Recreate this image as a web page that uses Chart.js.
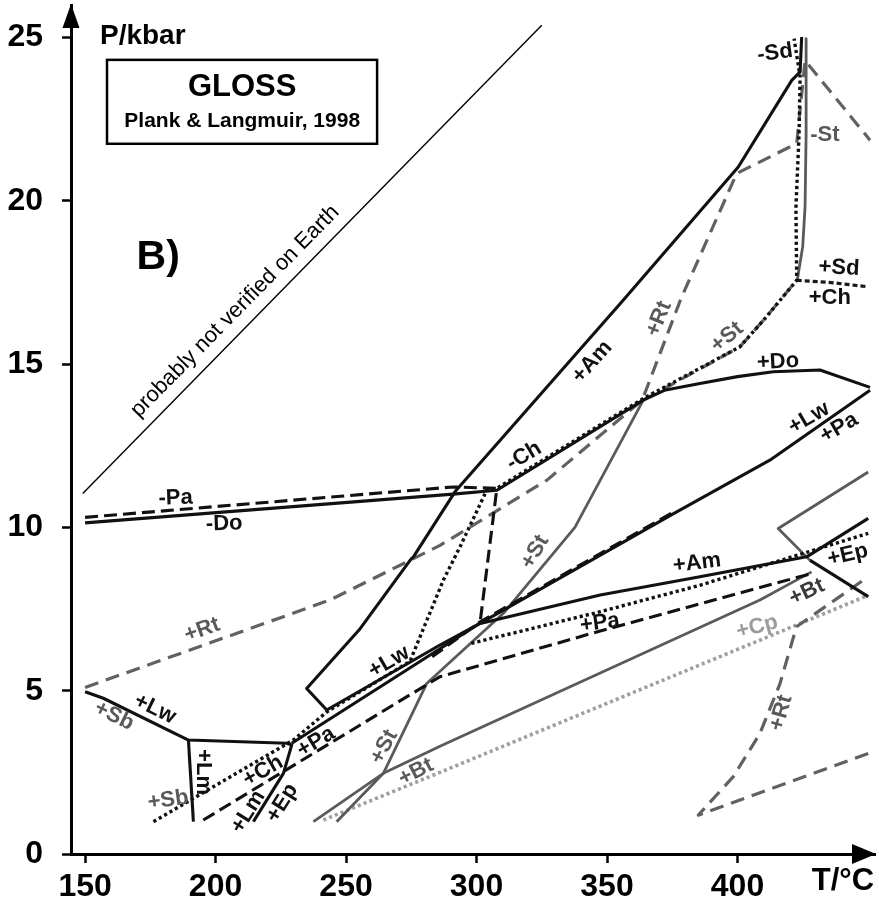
<!DOCTYPE html>
<html lang="en">
<head>
<meta charset="UTF-8">
<title>GLOSS P-T diagram</title>
<script src="https://cdn.jsdelivr.net/npm/chart.js"></script>
<style>
  body {margin:0; background:#fff;}
  #wrap {position:relative; width:879px; height:899px;}
</style>
</head>
<body>
<div id="wrap"><canvas id="ptChart"></canvas></div>
<script>
// axis ticks
const xTicks = [150, 200, 250, 300, 350, 400];
const yTicks = [0, 5, 10, 15, 20, 25];

// reaction curves, [T in °C, P in kbar]
const earthLimit = [[149.1, 11.04], [325, 25.38]];
const doCurve = [[150, 10.14], [291, 11.02], [307.8, 11.14], [363.9, 13.9], [372, 14.2], [385.6, 14.41], [400, 14.62], [413.7, 14.77], [431.6, 14.82], [450.8, 14.29]];
const amCurve = [[301, 7.05], [286, 6.4], [242.6, 4.41], [234.9, 5.07], [255.4, 6.9], [274.6, 9.0], [276, 9.12], [291.8, 11.1], [356.2, 16.96], [400.3, 21.04], [420.8, 23.69], [424, 23.95], [424.6, 25.02]];
const lwLeft = [[150, 4.97], [157, 4.77], [189.6, 3.49], [227.3, 3.39], [229.2, 3.34], [226, 2.47], [214.5, 0.99]];
const lmCurve = [[189.6, 3.49], [191.5, 0.99]];
const lwCurve = [[229.2, 3.39], [301, 7.05], [375, 10.4], [412.4, 12.06], [450.8, 14.2]];
const amLow = [[301, 7.05], [347.4, 7.93], [385.6, 8.49], [426.5, 9.1], [450.1, 10.28]];
const btRight = [[427.7, 9.0], [450.1, 7.88]];
const paUpper = [[150, 10.31], [291, 11.24], [307.8, 11.2], [301.4, 7.11]];
const paAlong = [[283, 6.04], [301.4, 7.11], [375, 10.45]];
const paLow = [[195.3, 1.04], [286, 5.43], [347.4, 6.83], [428.4, 8.59]];
const chDotted = [[176.2, 0.99], [229.8, 3.49], [242.6, 4.35], [274.5, 5.9], [287.3, 8.39], [293.7, 9.41], [303.9, 11.14], [307.8, 11.2], [363.9, 13.95], [400.9, 15.53], [410, 16.35], [422.7, 17.57], [422.4, 19.8], [423.6, 22.06], [424, 23.8], [421.7, 24.97]];
const sdDotted = [[422.7, 17.57], [436, 17.5], [450.1, 17.37]];
const epDotted = [[298, 6.45], [347.4, 7.42], [385.6, 8.23], [450.1, 9.82]];
const rtCurve = [[150, 5.1], [243.9, 7.78], [286, 9.45], [327, 11.45], [363.5, 13.9], [378.3, 17.0], [399.7, 20.84], [422.7, 21.76], [425.9, 24.3], [450.8, 21.86]];
const stDashed = [[363.9, 13.9], [400.9, 15.53], [410, 16.35], [422.7, 17.57]];
const rtRight = [[450.1, 3.08], [385, 1.19], [398.4, 2.37], [408.6, 3.69], [416.3, 5.22], [422.6, 6.96], [450.1, 8.49]];
const stCurve = [[246.4, 0.99], [264.3, 2.47], [280.9, 5.22], [310.3, 7.37], [337.7, 10.0], [363.9, 13.9]];
const btCurve = [[237.5, 0.99], [264.3, 2.47], [286, 3.3], [408.6, 7.78], [428.4, 8.64]];
const boxGray = [[450.1, 11.7], [415.6, 9.97], [427.7, 9.0]];
const sdGray = [[426.3, 24.97], [426.3, 22.06], [425.9, 19.82], [425, 18.6], [422.9, 17.57]];
const cpCurve = [[241.3, 1.04], [286, 2.5], [450.1, 7.92]];

// curve labels: text, T, P, angle, tone
const curveLabels = [
  ['-Pa', 184.7, 10.90, -2, 'k'], ['-Do', 203.3, 10.11, -2, 'k'],
  ['+Rt', 194.8, 6.86, -20, 'g'], ['+Lw', 176.8, 4.44, 26, 'k'],
  ['+Sb', 161.1, 4.23, 26, 'g'], ['+Lm', 195.2, 2.51, 90, 'k'],
  ['+Sb', 181.8, 1.65, -8, 'g'], ['+Ch', 218.2, 2.54, -30, 'k'],
  ['+Lm', 212.5, 1.29, -58, 'k'], ['+Ep', 225.5, 1.56, -58, 'k'],
  ['+Pa', 238.5, 3.43, -31, 'k'], ['+Lw', 266.5, 5.88, -30, 'k'],
  ['+St', 264.6, 3.28, -62, 'g'], ['+Bt', 276.8, 2.51, -27, 'g'],
  ['+Rt', 369.9, 16.39, -68, 'g'], ['+St', 396.0, 15.83, -40, 'g'],
  ['+Am', 344.3, 15.07, -48, 'k'], ['+Do', 415.5, 15.07, -3, 'k'],
  ['-Ch', 318.2, 12.19, -31, 'k'], ['+Lw', 427.4, 13.35, -30, 'k'],
  ['+Pa', 438.9, 13.05, -30, 'k'], ['+St', 322.4, 9.25, -60, 'g'],
  ['+Am', 384.5, 8.91, -7, 'k'], ['+Ep', 442.3, 9.16, -13, 'k'],
  ['+Bt', 426.6, 8.02, -25, 'd'], ['+Cp', 407.5, 6.95, -15, 'l'],
  ['+Pa', 347.3, 7.07, -8, 'k'], ['+Rt', 416.7, 4.32, -74, 'g'],
  ['-Sd', 414.4, 24.53, -8, 'k'], ['-St', 433.5, 22.02, 0, 'g'],
  ['+Sd', 438.9, 17.95, 3, 'k'], ['+Ch', 435.4, 17.03, 0, 'k']
];

const FONT = "'Liberation Sans', Arial, sans-serif";
const TONE = {k: '#111', g: '#595959', d: '#3a3a3a', l: '#9c9c9c'};
const STYLE = {
  solid: {c: '#111', w: 3.1, d: []},
  dash: {c: '#111', w: 3.1, d: [13, 6]},
  dot: {c: '#111', w: 3.4, d: [3.2, 3]},
  dot2: {c: '#1a1a1a', w: 3.2, d: [5, 3]},
  gDash: {c: '#616161', w: 3.2, d: [14, 8]},
  gSolid: {c: '#5a5a5a', w: 2.8, d: []},
  lDot: {c: '#a0a0a0', w: 3.6, d: [3.2, 3]},
  thin: {c: '#000', w: 1.4, d: []}
};

// first entries are drawn on top
const series = [
  [chDotted, 'dot'], [sdDotted, 'dot2'], [epDotted, 'dot'],
  [paUpper, 'dash'], [paAlong, 'dash'], [paLow, 'dash'],
  [doCurve, 'solid'], [amCurve, 'solid'], [lwLeft, 'solid'], [lmCurve, 'solid'],
  [lwCurve, 'solid'], [amLow, 'solid'], [btRight, 'solid'], [earthLimit, 'thin'],
  [stDashed, 'gDash'], [rtCurve, 'gDash'], [rtRight, 'gDash'],
  [stCurve, 'gSolid'], [btCurve, 'gSolid'], [boxGray, 'gSolid'], [sdGray, 'gSolid'],
  [cpCurve, 'lDot']
];

const decorations = {
  id: 'decorations',
  afterDatasetsDraw(chart) {
    const {ctx, chartArea: a, scales: {x, y}} = chart;
    const px = t => x.getPixelForValue(t), py = p => y.getPixelForValue(p);
    ctx.save();
    // axis arrows
    ctx.fillStyle = '#000';
    ctx.beginPath();
    ctx.moveTo(a.left, a.top - 1); ctx.lineTo(a.left - 8.5, a.top + 23); ctx.lineTo(a.left + 8.5, a.top + 23);
    ctx.closePath(); ctx.fill();
    ctx.beginPath();
    ctx.moveTo(a.right + 1, a.bottom); ctx.lineTo(a.right - 23, a.bottom - 10); ctx.lineTo(a.right - 23, a.bottom + 10);
    ctx.closePath(); ctx.fill();

    // curve labels
    ctx.textAlign = 'center'; ctx.textBaseline = 'middle';
    ctx.font = `bold 22px ${FONT}`;
    curveLabels.forEach(([txt, t, p, rot, tone]) => {
      ctx.save();
      ctx.translate(px(t), py(p)); ctx.rotate(rot * Math.PI / 180);
      ctx.fillStyle = TONE[tone];
      ctx.fillText(txt, 0, 0);
      ctx.restore();
    });

    // note along the limit line
    ctx.save();
    ctx.translate(px(207.5), py(16.62)); ctx.rotate(-45.5 * Math.PI / 180);
    ctx.fillStyle = '#000'; ctx.font = `22px ${FONT}`;
    ctx.fillText('probably not verified on Earth', 0, 0);
    ctx.restore();

    // title box
    ctx.strokeStyle = '#000'; ctx.lineWidth = 2.5;
    ctx.strokeRect(px(158.4), py(24.32), px(261.9) - px(158.4), py(21.75) - py(24.32));
    ctx.fillStyle = '#000';
    ctx.font = `bold 31px ${FONT}`;
    ctx.fillText('GLOSS', px(210.2), py(23.46));
    ctx.font = `bold 21px ${FONT}`;
    ctx.fillText('Plank & Langmuir, 1998', px(210.2), py(22.45));
    ctx.font = `bold 41px ${FONT}`;
    ctx.fillText('B)', px(178.0), py(18.25));

    // axis titles
    ctx.font = `bold 28px ${FONT}`;
    ctx.textAlign = 'left';
    ctx.fillText('P/kbar', px(155.7), py(25.05));
    ctx.font = `bold 31px ${FONT}`;
    ctx.textAlign = 'center';
    ctx.fillText('T/°C', px(440.4), py(-0.83));
    ctx.restore();
  }
};

const tickFont = {family: FONT, size: 32, weight: 'bold'};

new Chart(document.getElementById('ptChart'), {
  type: 'scatter',
  data: {
    datasets: series.map(([pts, st]) => ({
      data: pts.map(([t, p]) => ({x: t, y: p})),
      showLine: true,
      borderColor: STYLE[st].c,
      borderWidth: STYLE[st].w,
      borderDash: STYLE[st].d,
      borderCapStyle: 'butt',
      borderJoinStyle: 'round',
      pointRadius: 0,
      fill: false,
      tension: 0
    }))
  },
  options: {
    responsive: true,
    maintainAspectRatio: false,
    animation: false,
    events: [],
    layout: {padding: {left: 0, top: 5, right: 4, bottom: 0}},
    plugins: {legend: {display: false}, tooltip: {enabled: false}},
    scales: {
      x: {
        type: 'linear', min: 144.6, max: 452.7,
        afterFit: s => { s.height = 45; s.paddingLeft = 0; s.paddingRight = 0; },
        afterBuildTicks: s => { s.ticks = xTicks.map(v => ({value: v})); },
        grid: {display: true, drawOnChartArea: false, drawTicks: true, tickLength: 9, tickWidth: 2.5, tickColor: '#000'},
        border: {display: true, width: 3, color: '#000'},
        ticks: {color: '#000', font: tickFont, padding: 5, maxRotation: 0, autoSkip: false}
      },
      y: {
        type: 'linear', min: 0, max: 26,
        afterFit: s => { s.width = 71; s.paddingTop = 0; s.paddingBottom = 0; },
        afterBuildTicks: s => { s.ticks = yTicks.map(v => ({value: v})); },
        grid: {display: true, drawOnChartArea: false, drawTicks: true, tickLength: 9, tickWidth: 2.5, tickColor: '#000'},
        border: {display: true, width: 3, color: '#000'},
        ticks: {color: '#000', font: tickFont, padding: 19, autoSkip: false}
      }
    }
  },
  plugins: [decorations]
});
</script>
</body>
</html>
